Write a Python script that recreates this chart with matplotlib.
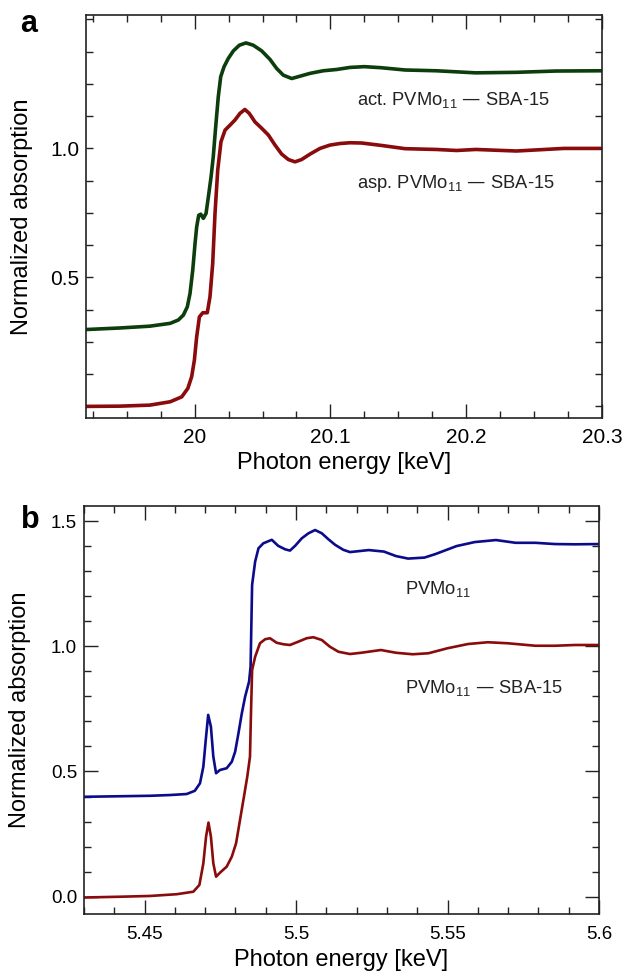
"""XANES spectra of PVMo11 samples (Mo K-edge and Mo L3-edge)."""

import matplotlib

matplotlib.use("Agg")
import matplotlib.pyplot as plt
import numpy as np
from matplotlib.ticker import FixedLocator, MultipleLocator

plt.rcParams["font.family"] = ["Liberation Sans", "DejaVu Sans"]
plt.rcParams["mathtext.default"] = "regular"

# --- panel a: Mo K-edge -------------------------------------------------
k_energy_asp = [
    19.92, 19.945, 19.967, 19.982, 19.9905, 19.995, 19.9978, 19.9998, 20.0015,
    20.0035, 20.006, 20.0093, 20.0113, 20.0133, 20.015, 20.017, 20.0194,
    20.0224, 20.026, 20.0297, 20.0334, 20.037, 20.0402, 20.0444, 20.0494,
    20.0543, 20.0592, 20.0641, 20.069, 20.0739, 20.0788, 20.085, 20.0923,
    20.0997, 20.107, 20.1144, 20.123, 20.137, 20.155, 20.178, 20.193,
    20.207, 20.222, 20.237, 20.251, 20.272, 20.300,
]
k_asp = [
    0.000, 0.001, 0.005, 0.018, 0.037, 0.070, 0.115, 0.179, 0.270,
    0.347, 0.363, 0.363, 0.425, 0.554, 0.748, 0.916, 1.026,
    1.071, 1.090, 1.110, 1.136, 1.151, 1.136, 1.103, 1.078,
    1.052, 1.013, 0.978, 0.957, 0.948, 0.957, 0.978, 1.000,
    1.013, 1.019, 1.022, 1.021, 1.012, 0.999, 0.996, 0.992,
    0.996, 0.993, 0.990, 0.994, 1.000, 1.000,
]
k_energy_act = [
    19.92, 19.945, 19.967, 19.982, 19.988, 19.9917, 19.9946, 19.9966, 19.9986,
    20.0003, 20.0015, 20.003, 20.0045, 20.0064, 20.0084, 20.0101, 20.0121,
    20.0137, 20.0155, 20.0174, 20.0192, 20.0216, 20.0248, 20.0285, 20.0329,
    20.0378, 20.0432, 20.0494, 20.0555, 20.0604, 20.0653, 20.0715, 20.0776,
    20.085, 20.0947, 20.1046, 20.1144, 20.125, 20.137, 20.155, 20.178,
    20.207, 20.237, 20.266, 20.300,
]
k_act = [
    0.298, 0.304, 0.311, 0.322, 0.335, 0.354, 0.386, 0.438, 0.528,
    0.632, 0.696, 0.741, 0.745, 0.729, 0.748, 0.812, 0.890,
    0.967, 1.084, 1.200, 1.278, 1.316, 1.349, 1.378, 1.400,
    1.409, 1.400, 1.378, 1.345, 1.310, 1.284, 1.271, 1.280,
    1.291, 1.301, 1.306, 1.314, 1.317, 1.313, 1.304, 1.301,
    1.293, 1.295, 1.300, 1.301,
]

# --- panel b: Mo L3-edge ------------------------------------------------
l_energy_bulk = [
    5.4304, 5.4518, 5.4584, 5.4639, 5.4666, 5.4683, 5.4694, 5.4702, 5.4710,
    5.4719, 5.4727, 5.4736, 5.4749, 5.4771, 5.4788, 5.4799, 5.481, 5.4821,
    5.4832, 5.4845, 5.4850, 5.4852, 5.4855, 5.4865, 5.4876, 5.4892, 5.4920,
    5.4941, 5.4964, 5.498, 5.4997, 5.5019, 5.5041, 5.5063, 5.5085, 5.5107,
    5.5129, 5.5156, 5.5178, 5.524, 5.529, 5.533, 5.537, 5.5424, 5.546,
    5.553, 5.559, 5.566, 5.5725, 5.579, 5.5855, 5.592, 5.600,
]
l_bulk = [
    0.399, 0.403, 0.406, 0.410, 0.423, 0.453, 0.519, 0.626, 0.726,
    0.679, 0.559, 0.493, 0.506, 0.513, 0.539, 0.579, 0.653, 0.732,
    0.799, 0.859, 0.919, 1.052, 1.245, 1.338, 1.391, 1.411, 1.425,
    1.401, 1.387, 1.382, 1.401, 1.431, 1.451, 1.464, 1.451, 1.427,
    1.405, 1.385, 1.376, 1.384, 1.378, 1.360, 1.350, 1.354, 1.368,
    1.400, 1.416, 1.424, 1.413, 1.413, 1.408, 1.407, 1.408,
]
l_energy_sba = [
    5.4304, 5.442, 5.4518, 5.4606, 5.4661, 5.4681, 5.4694, 5.4703, 5.4711,
    5.4719, 5.4727, 5.4736, 5.4749, 5.4771, 5.4788, 5.4802, 5.4815, 5.4828,
    5.4839, 5.4848, 5.4851, 5.4855, 5.4865, 5.4881, 5.4898, 5.4914, 5.4936,
    5.4958, 5.498, 5.5007, 5.5035, 5.5057, 5.5085, 5.5112, 5.514, 5.5178,
    5.5215, 5.528, 5.533, 5.5385, 5.5437, 5.550, 5.5568, 5.5633, 5.5698,
    5.579, 5.5855, 5.592, 5.600,
]
l_sba = [
    -0.003, 0.000, 0.003, 0.010, 0.020, 0.047, 0.133, 0.240, 0.296,
    0.240, 0.133, 0.080, 0.096, 0.120, 0.160, 0.213, 0.306, 0.399,
    0.479, 0.559, 0.719, 0.905, 0.958, 1.012, 1.028, 1.032, 1.014,
    1.008, 1.005, 1.018, 1.032, 1.036, 1.025, 0.998, 0.978, 0.969,
    0.974, 0.985, 0.974, 0.968, 0.972, 0.992, 1.009, 1.016, 1.012,
    1.002, 1.002, 1.005, 1.005,
]

GREEN = "#0c3d0c"
RED = "#8a0b0b"
BLUE = "#0b0b8c"

fig = plt.figure(figsize=(6.22, 9.71), dpi=100)
ax_a = fig.add_axes([0.1383, 0.5695, 0.8295, 0.415])
ax_b = fig.add_axes([0.135, 0.0587, 0.828, 0.4202])

# panel a
ax_a.plot(k_energy_act, k_act, color=GREEN, lw=2.6)
ax_a.plot(k_energy_asp, k_asp, color=RED, lw=2.6)
ax_a.set_xlim(19.92, 20.3)
ax_a.set_ylim(-0.045, 1.517)
ax_a.xaxis.set_major_locator(FixedLocator([20.0, 20.1, 20.2, 20.3]))
ax_a.set_xticklabels(["20", "20.1", "20.2", "20.3"])
ax_a.xaxis.set_minor_locator(MultipleLocator(0.025))
yt = np.arange(0, 1.51, 0.125)
ax_a.set_yticks(yt)
ax_a.set_yticklabels(["0.5" if abs(v - 0.5) < 1e-6 else "1.0" if abs(v - 1) < 1e-6 else "" for v in yt])
ax_a.tick_params(axis="x", which="major", length=10, pad=7.5)
ax_a.tick_params(axis="x", which="minor", length=5)
ax_a.tick_params(axis="y", which="major", length=5, pad=5)
ax_a.tick_params(which="both", labelsize=15)
ax_a.text(20.1196, 1.170, "act. PVMo$_{11}$ — SBA-15", fontsize=13.2, color="#222222")
ax_a.text(20.1196, 0.845, "asp. PVMo$_{11}$ — SBA-15", fontsize=13.2, color="#222222")
ax_a.yaxis.set_label_coords(-0.103, 0.494)
ax_a.xaxis.set_label_coords(0.5, -0.084)

# panel b
ax_b.plot(l_energy_bulk, l_bulk, color=BLUE, lw=1.9)
ax_b.plot(l_energy_sba, l_sba, color=RED, lw=1.9)
ax_b.set_xlim(5.43, 5.6)
ax_b.set_ylim(-0.069, 1.56)
ax_b.xaxis.set_major_locator(FixedLocator([5.45, 5.5, 5.55, 5.6]))
ax_b.set_xticklabels(["5.45", "5.5", "5.55", "5.6"])
ax_b.xaxis.set_minor_locator(MultipleLocator(0.01))
ax_b.set_yticks([0.0, 0.5, 1.0, 1.5])
ax_b.yaxis.set_minor_locator(MultipleLocator(0.1))
ax_b.tick_params(axis="both", which="major", length=10)
ax_b.tick_params(axis="both", which="minor", length=5)
ax_b.tick_params(axis="x", which="major", pad=8.5)
ax_b.tick_params(axis="y", which="major", pad=5)
ax_b.tick_params(which="both", labelsize=13.5)
ax_b.text(5.5359, 1.208, "PVMo$_{11}$", fontsize=13.2, color="#222222")
ax_b.text(5.5359, 0.815, "PVMo$_{11}$ — SBA-15", fontsize=13.2, color="#222222")
ax_b.yaxis.set_label_coords(-0.103, 0.49)
ax_b.xaxis.set_label_coords(0.5, -0.086)

for ax in (ax_a, ax_b):
    ax.tick_params(which="both", direction="in", top=True, right=True,
                   width=1.0, color="#222222")
    for sp in ax.spines.values():
        sp.set_linewidth(1.2)
        sp.set_color("#222222")
    ax.set_xlabel("Photon energy [keV]", fontsize=17)
    ax.set_ylabel("Normalized absorption", fontsize=17)

fig.text(0.033, 0.967, "a", fontsize=22, fontweight="bold", ha="left", va="baseline")
fig.text(0.033, 0.456, "b", fontsize=22, fontweight="bold", ha="left", va="baseline")

fig.savefig("out.png", dpi=100)
